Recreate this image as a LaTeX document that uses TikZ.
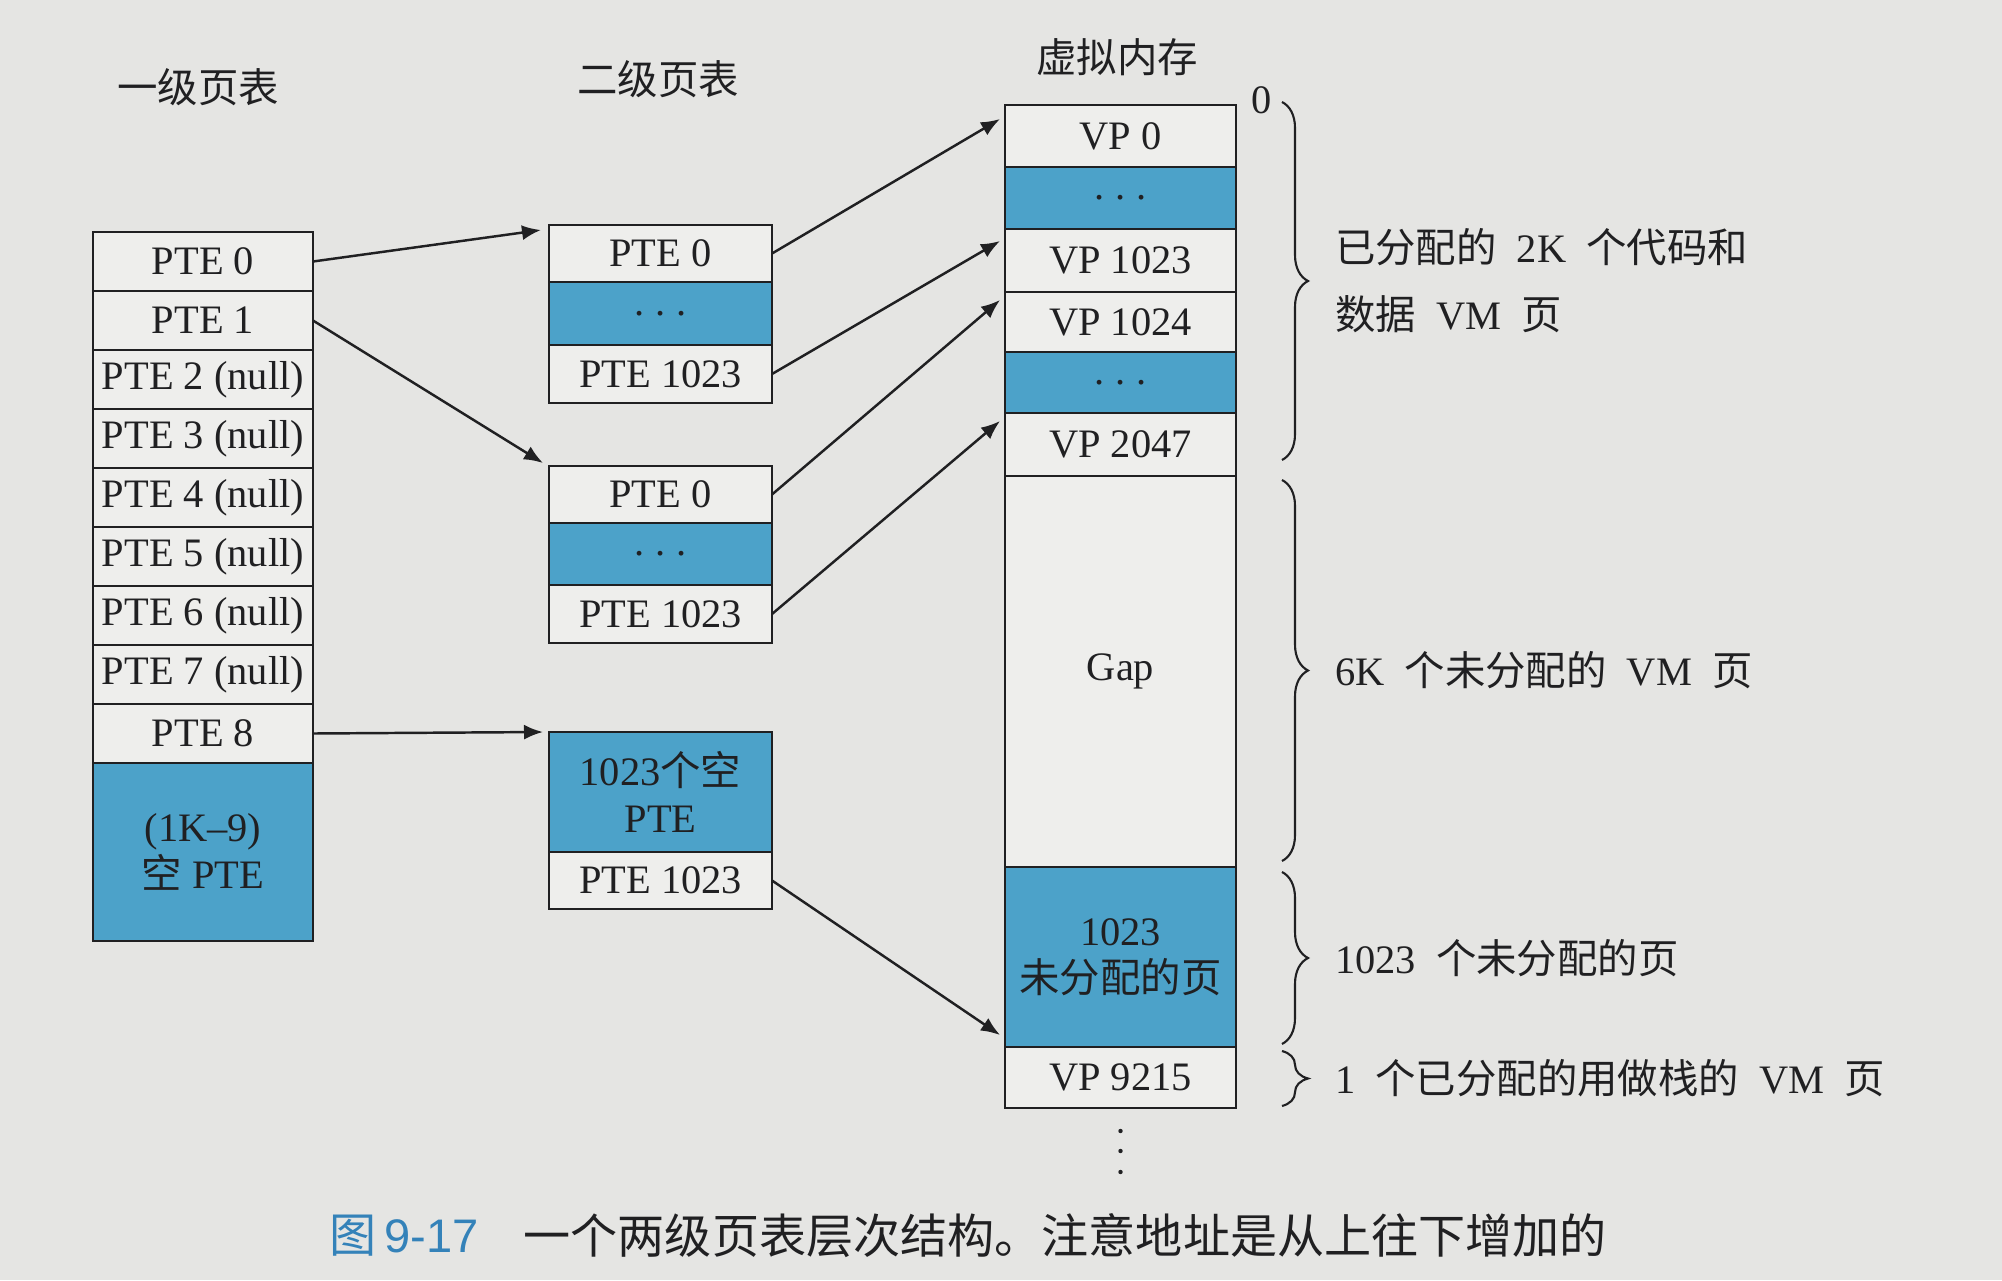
\documentclass[tikz,border=0pt]{standalone}
\usepackage{fontspec}
\setmainfont{Liberation Serif}
\newfontfamily\cjkfont{Noto Sans CJK SC}
\newfontfamily\capfont{Liberation Sans}
\newcommand{\zh}[1]{{\cjkfont #1}}
\usepackage{xcolor}
\usepackage{tikz}
\usetikzlibrary{arrows.meta,positioning,decorations.pathreplacing}
\definecolor{pagebg}{RGB}{229,229,227}
\definecolor{cellbg}{RGB}{238,238,236}
\definecolor{pteblue}{RGB}{76,162,201}
\definecolor{ink}{RGB}{32,32,34}
\definecolor{capblue}{RGB}{52,130,185}
\tikzset{
  cell/.style={draw=ink, fill=cellbg, line width=0.7pt, inner sep=0pt, outer sep=0pt,
    align=center, text=ink, font=\fontsize{11.5}{13.5}\selectfont},
  l1cell/.style={cell, minimum width=22mm, minimum height=5.9mm},
  l2cell/.style={cell, minimum width=22.3mm, minimum height=5.8mm},
  vmcell/.style={cell, minimum width=23.1mm, minimum height=6.1mm},
  unused/.style={fill=pteblue},
  title/.style={text=ink, font=\cjkfont\fontsize{11.5}{13.5}\selectfont},
  ptr/.style={-{Latex[length=1.9mm,width=1.5mm]}, line width=0.7pt, draw=ink},
  vmbrace/.style={decorate, decoration={brace, amplitude=2.6mm}, line width=0.6pt, draw=ink},
  note/.style={anchor=west, inner sep=0pt, align=left, text=ink,
    font=\fontsize{11.5}{19}\selectfont}
}

\begin{document}
\begin{tikzpicture}[x=0.1mm, y=-0.1mm, node distance=0pt]
  \fill[pagebg] (0,0) rectangle (2002,1280);
  \useasboundingbox (0,0) rectangle (2002,1280);

  % column titles
  \node[title] (t1) at (198,87) {一级页表};
  \node[title] (t2) at (658,79) {二级页表};
  \node[title] (t3) at (1117,57) {虚拟内存};

  % level 1 page table
  \node[l1cell] (p0) at (203,261.5) {PTE 0};
  \node[l1cell, below=of p0] (p1) {PTE 1};
  \node[l1cell, below=of p1] (p2) {PTE 2 (null)};
  \node[l1cell, below=of p2] (p3) {PTE 3 (null)};
  \node[l1cell, below=of p3] (p4) {PTE 4 (null)};
  \node[l1cell, below=of p4] (p5) {PTE 5 (null)};
  \node[l1cell, below=of p5] (p6) {PTE 6 (null)};
  \node[l1cell, below=of p6] (p7) {PTE 7 (null)};
  \node[l1cell, below=of p7] (p8) {PTE 8};
  \node[l1cell, unused, minimum height=17.8mm, below=of p8] (p9) {(1K--9)\\\zh{空} PTE};

  % level 2 page tables
  \node[l2cell, minimum height=5.7mm] (a0) at (660.5,253.5) {PTE 0};
  \node[l2cell, unused, minimum height=6.3mm, below=of a0] (adots) {.\hspace{3pt}.\hspace{3pt}.};
  \node[l2cell, below=of adots] (a1) {PTE 1023};

  \node[l2cell, minimum height=5.7mm] (b0) at (660.5,494.5) {PTE 0};
  \node[l2cell, unused, minimum height=6.2mm, below=of b0] (bdots) {.\hspace{3pt}.\hspace{3pt}.};
  \node[l2cell, below=of bdots] (b1) {PTE 1023};

  \node[l2cell, unused, minimum height=12mm] (c0) at (660.5,792) {1023\zh{个空}\\PTE};
  \node[l2cell, minimum height=5.7mm, below=of c0] (c1) {PTE 1023};

  % virtual memory
  \node[vmcell, minimum height=6.2mm] (vp0) at (1120.5,136) {VP 0};
  \node[vmcell, unused, minimum height=6.2mm, below=of vp0] (vdots1) {.\hspace{3pt}.\hspace{3pt}.};
  \node[vmcell, minimum height=6.3mm, below=of vdots1] (vp1023) {VP 1023};
  \node[vmcell, minimum height=6mm, below=of vp1023] (vp1024) {VP 1024};
  \node[vmcell, unused, below=of vp1024] (vdots2) {.\hspace{3pt}.\hspace{3pt}.};
  \node[vmcell, minimum height=6.3mm, below=of vdots2] (vp2047) {VP 2047};
  \node[vmcell, minimum height=39.1mm, below=of vp2047] (gap) {Gap};
  \node[vmcell, unused, minimum height=18mm, below=of gap] (vmfree) {1023\\\zh{未分配的页}};
  \node[vmcell, below=of vmfree] (vp9215) {VP 9215};
  \node[text=ink, inner sep=0pt, font=\fontsize{11.5}{13.5}\selectfont] (zero)
    at ([xshift=2.6mm,yshift=0.5mm]vp0.north east) {0};
  \fill[ink] ([yshift=-2.3mm]vp9215.south) circle (0.22mm);
  \fill[ink] ([yshift=-4.3mm]vp9215.south) circle (0.22mm);
  \fill[ink] ([yshift=-6.4mm]vp9215.south) circle (0.22mm);

  % pointers
  \draw[ptr] (p0.east) -- ([xshift=-0.8mm,yshift=-0.5mm]a0.north west);
  \draw[ptr] (p1.east) -- ([xshift=-0.6mm,yshift=0.3mm]b0.north west);
  \draw[ptr] (p8.east) -- ([xshift=-0.6mm]c0.north west);
  \draw[ptr] (a0.east) -- ([xshift=-0.5mm,yshift=-1.4mm]vp0.north west);
  \draw[ptr] (a1.east) -- ([xshift=-0.5mm,yshift=-1.2mm]vp1023.north west);
  \draw[ptr] (b0.east) -- ([xshift=-0.5mm,yshift=-0.8mm]vp1024.north west);
  \draw[ptr] (b1.east) -- ([xshift=-0.5mm,yshift=-0.8mm]vp2047.north west);
  \draw[ptr] (c1.east) -- ([xshift=-0.5mm,yshift=1.2mm]vmfree.south west);

  % braces on the right
  \draw[vmbrace] ([xshift=4.6mm,yshift=0.3mm]vp0.north east) -- ([xshift=4.6mm,yshift=1.6mm]vp2047.south east)
    node[note, midway, xshift=5.2mm] {\zh{已分配的}\enspace 2K\enspace\zh{个代码和}\\\zh{数据}\enspace VM\enspace\zh{页}};
  \draw[vmbrace] ([xshift=4.6mm,yshift=-0.4mm]gap.north east) -- ([xshift=4.6mm,yshift=0.6mm]gap.south east)
    node[note, midway, xshift=5.2mm] {6K\enspace\zh{个未分配的}\enspace VM\enspace\zh{页}};
  \draw[vmbrace] ([xshift=4.6mm,yshift=-0.5mm]vmfree.north east) -- ([xshift=4.6mm,yshift=0.3mm]vmfree.south east)
    node[note, midway, xshift=5.2mm] {1023\enspace\zh{个未分配的页}};
  \draw[vmbrace] ([xshift=4.6mm,yshift=-0.4mm]vp9215.north east) -- ([xshift=4.6mm,yshift=0.2mm]vp9215.south east)
    node[note, midway, xshift=5.2mm] {1\enspace\zh{个已分配的用做栈的}\enspace VM\enspace\zh{页}};

  % caption
  \node[anchor=west, inner sep=0pt, text=capblue, font=\fontsize{13.4}{16}\selectfont] (figno)
    at (329,1236) {\zh{图}\,{\capfont 9-17}};
  \node[anchor=west, inner sep=0pt, text=ink, font=\cjkfont\fontsize{13.4}{16}\selectfont] (caption)
    at (523,1236) {一个两级页表层次结构。注意地址是从上往下增加的};
\end{tikzpicture}
\end{document}
